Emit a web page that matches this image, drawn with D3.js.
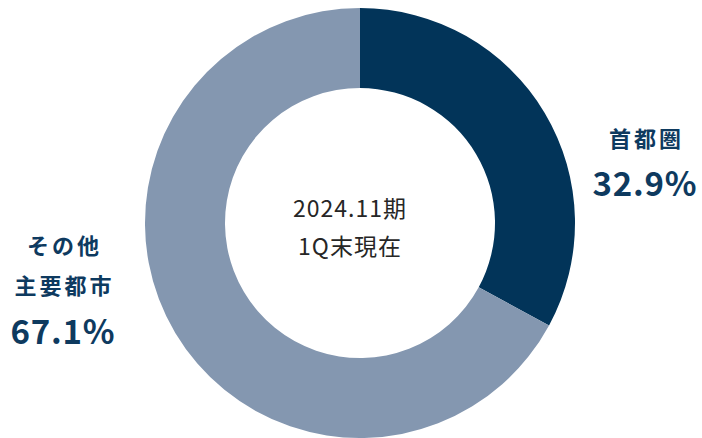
<!DOCTYPE html>
<html>
<head>
<meta charset="utf-8">
<script src="https://cdn.jsdelivr.net/npm/d3@7"></script>
<style>
  body { margin: 0; background: #fff; }
  svg { display: block; font-family: "Noto Sans CJK JP", "Noto Sans", sans-serif; }
</style>
</head>
<body>
<div id="chart"></div>
<script>
const regions = ['首都圏', 'その他主要都市']
const shares = [32.9, 67.1]
const labelLines = [['首都圏'], ['その他', '主要都市']]
const centerLines = ['2024.11期', '1Q末現在']
const colors = ['#023459', '#8497b0']

const width = 702
const height = 438
const cx = 360
const cy = 223
const outerR = 215
const innerR = 135

const svg = d3.select('#chart')
  .append('svg')
  .attr('width', width)
  .attr('height', height)

const g = svg.append('g')
  .attr('transform', `translate(${cx}, ${cy})`)

const pie = d3.pie().sort(null).value(d => d)
const arc = d3.arc().innerRadius(innerR).outerRadius(outerR)

g.selectAll('path')
  .data(pie(shares))
  .enter()
  .append('path')
  .attr('d', arc)
  .attr('fill', (d, i) => colors[i])

// center caption
svg.append('g')
  .selectAll('text')
  .data(centerLines)
  .enter()
  .append('text')
  .attr('x', 350)
  .attr('y', (d, i) => 217 + i * 38)
  .attr('text-anchor', 'middle')
  .attr('font-size', 23)
  .attr('letter-spacing', 1)
  .attr('fill', '#262626')
  .text(d => d)

// outside labels
const labelPos = [
  { x: 645, y: 147, pctY: 196 },
  { x: 63, y: 254, pctY: 344 }
]

regions.forEach((r, i) => {
  const p = labelPos[i]
  labelLines[i].forEach((line, j) => {
    svg.append('text')
      .attr('x', p.x + 1.5)
      .attr('y', p.y + j * 40)
      .attr('text-anchor', 'middle')
      .attr('font-size', 22)
      .attr('font-weight', 'bold')
      .attr('letter-spacing', 3)
      .attr('fill', '#0e3a5f')
      .text(line)
  })
  svg.append('text')
    .attr('x', p.x)
    .attr('y', p.pctY)
    .attr('text-anchor', 'middle')
    .attr('font-size', 33)
    .attr('font-weight', 'bold')
    .attr('letter-spacing', 0.8)
    .attr('fill', '#0e3a5f')
    .text(shares[i].toFixed(1) + '%')
})
</script>
</body>
</html>
